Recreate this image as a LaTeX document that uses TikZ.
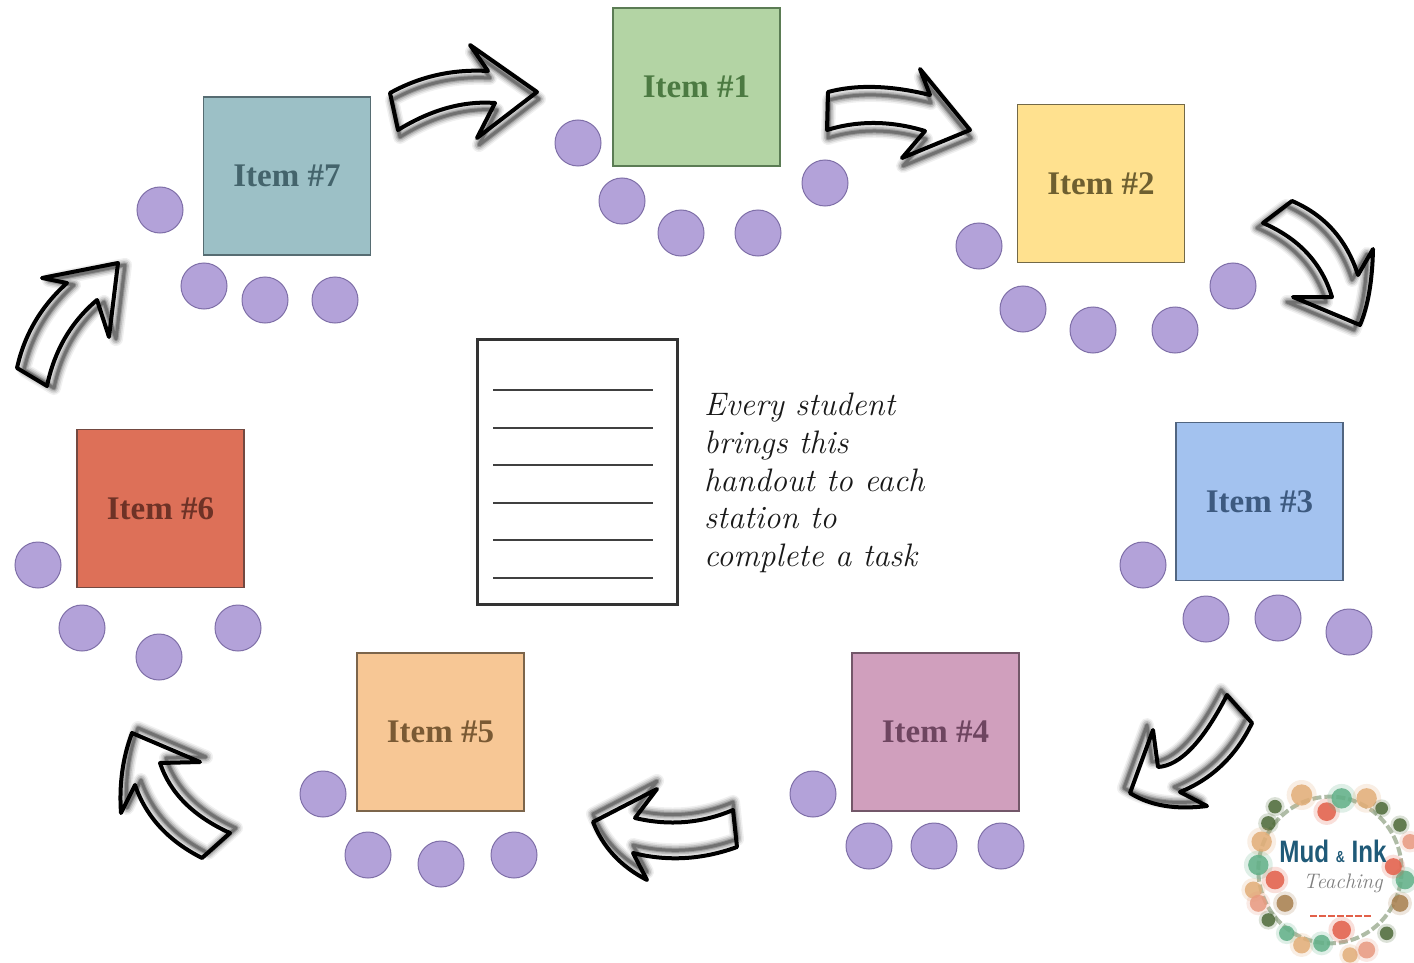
\documentclass[tikz,border=0pt]{standalone}
\usepackage{fontspec}
\usetikzlibrary{calc}
\newfontfamily\logofont{Liberation Sans}
\newfontfamily\labelfont{Liberation Serif}
\definecolor{seatfill}{HTML}{B3A2D9}
\definecolor{seatline}{HTML}{7F6FA8}
\definecolor{logoblue}{HTML}{1F5A78}
\definecolor{fa}{HTML}{B3D4A4}\definecolor{ta}{HTML}{4C7A42}
\definecolor{fb}{HTML}{FFE18F}\definecolor{tb}{HTML}{6E5F30}
\definecolor{fc}{HTML}{A3C2EF}\definecolor{tc}{HTML}{3D5A80}
\definecolor{fd}{HTML}{D09FBD}\definecolor{td}{HTML}{6E4560}
\definecolor{fe}{HTML}{F7C795}\definecolor{te}{HTML}{7A5A34}
\definecolor{ff}{HTML}{DD7058}\definecolor{tf}{HTML}{6E3226}
\definecolor{fg}{HTML}{9CC0C6}\definecolor{tg}{HTML}{44646C}
\definecolor{wtan}{HTML}{E2AE78}
\definecolor{wred}{HTML}{E2604A}
\definecolor{wgreen}{HTML}{62B088}
\definecolor{wdark}{HTML}{4F6B3A}
\definecolor{wsalmon}{HTML}{E89A80}
\definecolor{wbrown}{HTML}{A88050}
\tikzset{
  station/.style args={#1/#2}{draw=#2!70!gray,line width=1.3pt,fill=#1,text=#2,
    minimum width=167pt,minimum height=158pt,inner sep=0pt,text depth=0pt,
    font=\fontsize{33}{36}\selectfont\labelfont\bfseries},
  seat/.style={circle,draw=seatline,line width=1pt,fill=seatfill,minimum size=46pt,inner sep=0pt},
  note/.style={anchor=base west,inner sep=0pt,font=\fontsize{32.5}{38}\selectfont\itshape,text=black!90},
  rule/.style={draw=black!75,line width=1.6pt},
  flower/.style={circle,inner sep=0pt}
}
% quadratic curve: from #1 with control point #2 to #3
\newcommand\qc[3]{(#1) .. controls ($(#1)!.667!(#2)$) and ($(#3)!.667!(#2)$) .. (#3)}
\newcommand\blockarrow[3]{%
  \fill[white] #3;
  \foreach \wd/\op in {14/.06,11/.09,8/.13,5/.2,3/.25}{
    \draw[shift={(#1,#2)},line width=\wd pt,black,opacity=\op,line join=round] #3;
  }
  \draw[line width=4pt,black,line join=round,line cap=round] #3;
}
\begin{document}
\begin{tikzpicture}[x=1pt,y=-1pt]
\useasboundingbox (0,0) rectangle (1414,963);
\fill[white] (0,0) rectangle (1414,963);

% arrows
\blockarrow{2}{7}{\qc{390,93}{435,68}{488,71} -- (470,45) -- (537,92) -- (477,138) -- \qc{495,103}{447.5,99.5}{398,130} -- cycle}
\blockarrow{1}{8}{\qc{828,92}{871,80.5}{930,95} -- (920,69) -- (970,130) -- (902,158) -- \qc{925,131}{874,115.5}{827,130} -- cycle}
\blockarrow{-6}{5}{\qc{1292,201}{1341,222}{1358,275} -- \qc{1373,249}{1372,297}{1360,325} -- (1293,297) -- \qc{1332,297}{1316.5,246}{1263,223} -- cycle}
\blockarrow{-6}{-5}{\qc{1227,695}{1191,765}{1158,767} -- (1153,730) -- \qc{1130,793}{1160,812}{1207,806} -- \qc{1180,792}{1228,772.5}{1252,723} -- cycle}
\blockarrow{0}{-8}{\qc{733,810}{686,830}{635,818} -- (657,789) -- \qc{593,822}{608,860}{647,880} -- \qc{633,853}{685,866}{737,847} -- cycle}
\blockarrow{6}{-5}{\qc{230,833}{175,808}{160,763} -- (200,762) -- \qc{132,733}{118,770}{121,813} -- \qc{135,785}{151.5,832.5}{202,858} -- cycle}
\blockarrow{7}{2}{\qc{17,368}{28,318}{67,283} -- (42,278) -- (118,263) -- (109,337) -- \qc{97,300}{58,333}{47,386} -- cycle}

% stations
\node[station=fa/ta] (item1) at (696.5,87) {Item \#1};
\node[station=fb/tb] (item2) at (1101,183.5) {Item \#2};
\node[station=fc/tc] (item3) at (1259.5,501.5) {Item \#3};
\node[station=fd/td] (item4) at (935.5,732) {Item \#4};
\node[station=fe/te] (item5) at (440.5,732) {Item \#5};
\node[station=ff/tf] (item6) at (160.5,508.5) {Item \#6};
\node[station=fg/tg] (item7) at (287,176) {Item \#7};

% seats
\node[seat] (s1a) at (578,143) {};
\node[seat] (s1b) at (622,201) {};
\node[seat] (s1c) at (681,233) {};
\node[seat] (s1d) at (758,233) {};
\node[seat] (s1e) at (825,183) {};
\node[seat] (s2a) at (979,246) {};
\node[seat] (s2b) at (1023,309) {};
\node[seat] (s2c) at (1093,330) {};
\node[seat] (s2d) at (1175,330) {};
\node[seat] (s2e) at (1233,286) {};
\node[seat] (s3a) at (1143,565) {};
\node[seat] (s3b) at (1206,619) {};
\node[seat] (s3c) at (1278,618) {};
\node[seat] (s3d) at (1349,632) {};
\node[seat] (s4a) at (813,794) {};
\node[seat] (s4b) at (869,846) {};
\node[seat] (s4c) at (934,846) {};
\node[seat] (s4d) at (1001,846) {};
\node[seat] (s5a) at (323,794) {};
\node[seat] (s5b) at (368,855) {};
\node[seat] (s5c) at (441,864) {};
\node[seat] (s5d) at (514,855) {};
\node[seat] (s6a) at (38,565) {};
\node[seat] (s6b) at (82,628) {};
\node[seat] (s6c) at (159,657) {};
\node[seat] (s6d) at (238,628) {};
\node[seat] (s7a) at (160,210) {};
\node[seat] (s7b) at (204,286) {};
\node[seat] (s7c) at (265,300) {};
\node[seat] (s7d) at (335,300) {};

% handout
\node[draw=black!80,line width=3pt,fill=white,minimum width=200pt,minimum height=265pt,inner sep=0pt] (handout) at (577,471.5) {};
\foreach \yy in {390,428,465,503,540,578}{
  \draw[rule] (493,\yy) -- (653,\yy);
}

% note
\node[note] (n1) at (704,415) {Every student};
\node[note] (n2) at (704,453) {brings this};
\node[note] (n3) at (704,491) {handout to each};
\node[note] (n4) at (704,528) {station to};
\node[note] (n5) at (704,566) {complete a task};

% logo
\begin{scope}[shift={(1230,770)},x=.3333pt,y=-.3333pt]
  \draw[draw=wdark,line width=4pt,dash pattern=on 9pt off 3pt,opacity=.45] (300,300) ellipse (215 and 220);
  \foreach \fx/\fy/\fc/\fs in {
    215/75/wtan/25,290/125/wred/22,335/85/wgreen/24,410/85/wtan/24,
    135/110/wdark/16,115/160/wdark/17,95/215/wtan/24,85/285/wgreen/24,
    135/330/wred/22,70/360/wtan/20,85/400/wsalmon/20,165/400/wbrown/20,
    115/450/wdark/16,170/490/wgreen/18,215/525/wtan/20,275/520/wgreen/20,
    335/480/wred/22,360/555/wtan/18,410/540/wsalmon/20,470/490/wdark/16,
    510/400/wbrown/20,525/330/wgreen/22,490/290/wred/20,540/215/wsalmon/18,
    510/165/wdark/16,455/115/wdark/15}{
    \node[flower,fill=\fc,opacity=.2,minimum size=\fs*1.2 pt] at (\fx,\fy) {};
    \node[flower,fill=\fc,opacity=.85,minimum size=\fs*.85 pt] at (\fx,\fy) {};
  }
\end{scope}
\node[inner sep=0pt,text=logoblue,xscale=.78,font=\fontsize{31}{32}\selectfont\logofont\bfseries] (logo) at (1333,851) {Mud \fontsize{16}{18}\selectfont\&\fontsize{31}{32}\selectfont{} Ink};
\node[inner sep=0pt,text=black!50,font=\fontsize{21}{22}\selectfont\itshape] (logosub) at (1343,883) {Teaching};
\coordinate (redl) at (1310,916);
\coordinate (redr) at (1371,916);
\draw[wred,line width=2.5pt,dash pattern=on 7pt off 2pt] (redl) -- (redr);
\end{tikzpicture}
\end{document}
